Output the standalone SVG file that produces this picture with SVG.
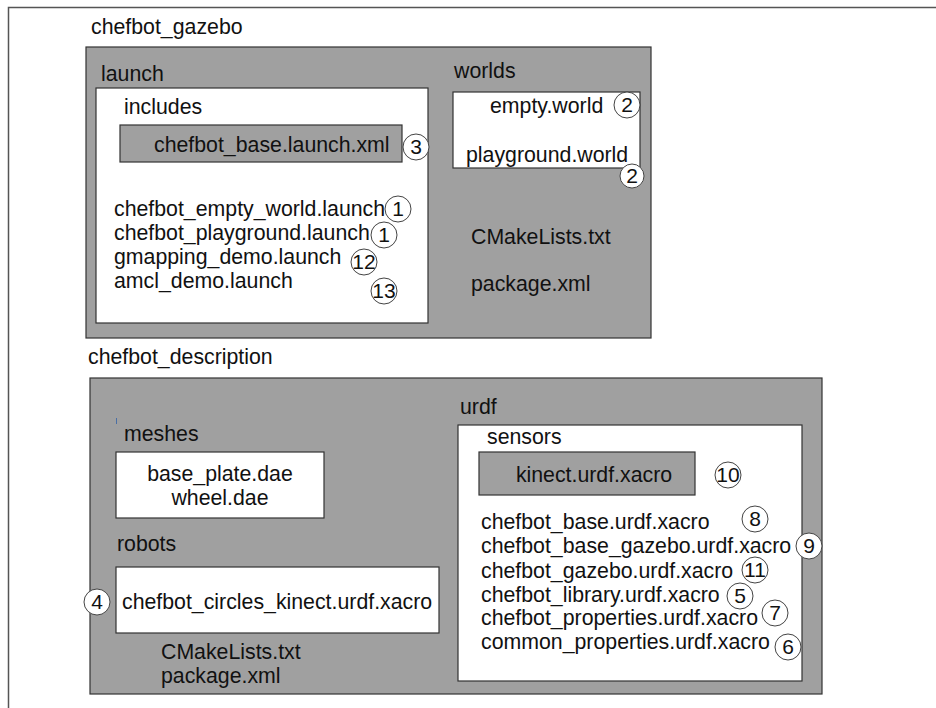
<svg xmlns="http://www.w3.org/2000/svg" width="936" height="708" viewBox="0 0 936 708">
<style>
text{font-family:"Liberation Sans",Arial,sans-serif;font-size:21.3px;fill:#111}
.g{fill:#a0a0a0;stroke:#333;stroke-width:1.2}
.w{fill:#fff;stroke:#333;stroke-width:1.2}
.c{fill:#fff;stroke:#444;stroke-width:1}
.n{text-anchor:middle;font-size:21px}
</style>
<rect width="936" height="708" fill="#fff"/>
<path d="M8.5 708V7.5H936" fill="none" stroke="#555" stroke-width="1.5"/>
<g id="chefbot_gazebo">
<text x="91" y="34">chefbot_gazebo</text>
<rect class="g" x="86" y="47" width="565" height="291"/>
</g>
<g id="launch">
<text x="101" y="81">launch</text>
<rect class="w" x="96" y="88" width="332" height="235"/>
<text x="124" y="114">includes</text>
<text x="114" y="216">chefbot_empty_world.launch</text>
<text x="114" y="240">chefbot_playground.launch</text>
<text x="114" y="264">gmapping_demo.launch</text>
<text x="114" y="288">amcl_demo.launch</text>
</g>
<g id="chefbot_base_launch">
<rect class="g" x="120" y="125" width="282" height="37"/>
<text x="154" y="152">chefbot_base.launch.xml</text>
</g>
<g id="worlds">
<text x="454" y="78">worlds</text>
<rect class="w" x="453" y="92" width="187" height="76"/>
<text x="490" y="113">empty.world</text>
<text x="466" y="162">playground.world</text>
</g>
<g id="gazebo_files">
<text x="471" y="244">CMakeLists.txt</text>
<text x="471" y="291">package.xml</text>
</g>
<g id="chefbot_description">
<text x="88" y="364">chefbot_description</text>
<rect class="g" x="90" y="378" width="732" height="316"/>
<path d="M116.5 418v6" stroke="#4a6fa5" stroke-width="1"/>
</g>
<g id="meshes">
<text x="124" y="441">meshes</text>
<rect class="w" x="116" y="452" width="208" height="66"/>
<text x="220" y="481" text-anchor="middle">base_plate.dae</text>
<text x="220" y="505" text-anchor="middle">wheel.dae</text>
</g>
<g id="robots">
<text x="117" y="551">robots</text>
<rect class="w" x="116" y="567" width="323" height="66"/>
<text x="122" y="609">chefbot_circles_kinect.urdf.xacro</text>
</g>
<g id="description_files">
<text x="161" y="659">CMakeLists.txt</text>
<text x="161" y="683">package.xml</text>
</g>
<g id="urdf">
<text x="460" y="414">urdf</text>
<rect class="w" x="458" y="425" width="344" height="256"/>
<text x="487" y="444">sensors</text>
<text x="481" y="529">chefbot_base.urdf.xacro</text>
<text x="481" y="553">chefbot_base_gazebo.urdf.xacro</text>
<text x="481" y="578">chefbot_gazebo.urdf.xacro</text>
<text x="481" y="602">chefbot_library.urdf.xacro</text>
<text x="481" y="625">chefbot_properties.urdf.xacro</text>
<text x="481" y="649">common_properties.urdf.xacro</text>
</g>
<g id="kinect">
<rect class="g" x="479" y="452" width="216" height="43"/>
<text x="594" y="482" text-anchor="middle">kinect.urdf.xacro</text>
</g>
<g id="markers">
<circle class="c" cx="416" cy="147" r="13"/><text class="n" x="416" y="154">3</text>
<circle class="c" cx="627" cy="105" r="13"/><text class="n" x="627" y="112">2</text>
<circle class="c" cx="632" cy="176" r="12"/><text class="n" x="632" y="183">2</text>
<circle class="c" cx="398" cy="209" r="13"/><text class="n" x="398" y="216">1</text>
<circle class="c" cx="384" cy="235" r="13"/><text class="n" x="384" y="242">1</text>
<circle class="c" cx="364" cy="262" r="13"/><text class="n" x="364" y="269">12</text>
<circle class="c" cx="384" cy="291" r="13"/><text class="n" x="384" y="298">13</text>
<circle class="c" cx="97" cy="602" r="13"/><text class="n" x="97" y="609">4</text>
<circle class="c" cx="728" cy="475" r="13"/><text class="n" x="728" y="482">10</text>
<circle class="c" cx="755" cy="519" r="13"/><text class="n" x="755" y="526">8</text>
<circle class="c" cx="809" cy="546" r="13"/><text class="n" x="809" y="553">9</text>
<circle class="c" cx="755" cy="570" r="13"/><text class="n" x="755" y="577">11</text>
<circle class="c" cx="740" cy="596" r="13"/><text class="n" x="740" y="603">5</text>
<circle class="c" cx="775" cy="613" r="13"/><text class="n" x="775" y="620">7</text>
<circle class="c" cx="788" cy="647" r="13"/><text class="n" x="788" y="654">6</text>
</g>
</svg>
